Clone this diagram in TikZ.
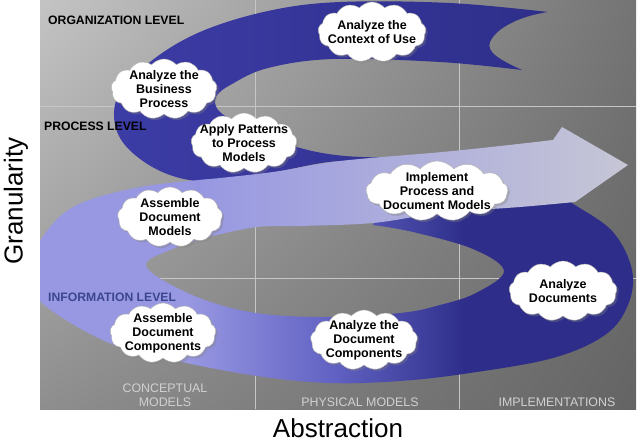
\documentclass[tikz,border=0pt]{standalone}
\usepackage{fontspec}
\setmainfont{Liberation Sans}
\usetikzlibrary{shapes.symbols,shadows,shadings}
\definecolor{bgul}{HTML}{C4C4C4}
\definecolor{bgur}{HTML}{747474}
\definecolor{bgll}{HTML}{8E8E8E}
\definecolor{bglr}{HTML}{646464}
\definecolor{darkb}{HTML}{2E2E8A}
\definecolor{lightb}{HTML}{3C3CA6}
\definecolor{midb}{HTML}{6262C4}
\definecolor{lav}{HTML}{9898E2}
\definecolor{pale}{HTML}{C6C6D6}
\definecolor{infoc}{HTML}{3C4690}
\pgfdeclarehorizontalshading{lowband}{100bp}{color(0bp)=(lav); color(38bp)=(lav); color(50bp)=(midb); color(61bp)=(darkb); color(100bp)=(darkb)}
\tikzset{
  cloudbox/.style={cloud, cloud puffs=13, cloud puff arc=100, cloud ignores aspect,
    fill=white, draw=gray!60, inner xsep=-14pt, inner ysep=-8pt, minimum height=60pt,
    align=center, font=\fontsize{12.5}{14}\selectfont\bfseries,
    drop shadow={shadow xshift=2pt, shadow yshift=-2pt, opacity=.35}},
  lvl/.style={anchor=base west, inner sep=0pt, font=\fontsize{12.2}{14}\selectfont\bfseries},
  colname/.style={inner sep=0pt, align=center, text=white!82!black, font=\fontsize{12.4}{14}\selectfont},
  axislabel/.style={anchor=base, inner sep=0pt, font=\fontsize{26}{30}\selectfont},
  gridline/.style={white!55!gray, line width=.6pt}
}
\begin{document}
\begin{tikzpicture}[x=1pt, y=-1pt, line join=round, line cap=round]
\useasboundingbox (0,0) rectangle (639,442);
\path (548,12) coordinate(tailtop)
(490,42) coordinate(notch)
(522,70) coordinate(tailbot)
(562,127) coordinate(barb)
(628,165) coordinate(tip)
(575,202) coordinate(barblow)
;
%background and grid
\shade[upper left=bgul, upper right=bgur, lower left=bgll, lower right=bglr] (40,0) rectangle (636,409);
\foreach \gx in {255,459} \draw[gridline] (\gx,0) -- (\gx,409);
\foreach \gy in {106,278} \draw[gridline] (40,\gy) -- (636,\gy);
%the S band
\begin{scope}
\clip (40,0) rectangle (636,409);
\shade[left color=lightb, right color=darkb]
  plot[smooth, tension=.6] coordinates {(tailtop) (450,3) (340,2) (268,11) (200,32) (150,62) (117,98) (120,138) (158,170) (210,182) (275,172) (345,161) (425,172)}
  -- plot[smooth, tension=.6] coordinates {(425,158) (345,156) (293,146) (248,128) (220,112) (216,97) (232,84) (268,68) (333,59) (440,62) (tailbot)}
  .. controls (500,60) and (486,52) .. (notch)
  .. controls (496,28) and (520,16) .. (tailtop) -- cycle;
\shade[shading=lowband]
  plot[smooth, tension=.6] coordinates {(212,179) (140,187) (75,206) (42,238) (30,272) (42,303) (107,342) (173,360) (257,376) (330,383) (400,381) (470,373) (553,358) (605,335) (628,305) (632,270) (613,232) (575,205) (560,197)}
  -- (380,210)
  -- plot[smooth, tension=.6] coordinates {(373,225) (413,232) (473,249) (504,271) (476,293) (440,305) (400,313) (320,317) (250,312) (190,294) (146,266) (175,248) (212,236)} -- cycle;
\shade[left color=lav, right color=pale]
  plot[smooth, tension=.6] coordinates {(200,180) (273,172) (340,161) (453,151) (553,140)}
  -- (barb) -- (tip) -- (barblow)
  -- plot[smooth, tension=.6] coordinates {(barblow) (520,207) (440,213) (373,223) (300,226) (257,227) (212,236) (200,239)} -- cycle;
\end{scope}
%clouds
\foreach \n/\x/\y/\w/\t in {
  ctx/372/32/108/{Analyze the\\Context of Use},
  biz/164/89/106/{Analyze the\\Business\\Process},
  pat/244/143/106/{Apply Patterns\\to Process\\Models},
  asm/170/217/105/{Assemble\\Document\\Models},
  impl/437/191/142/{Implement\\Process and\\Document Models},
  adoc/563/291/108/{Analyze\\Documents},
  adc/364/340/107/{Analyze the\\Document\\Components},
  acomp/163/333/106/{Assemble\\Document\\Components}}
  \node[cloudbox, minimum width=\w pt] (\n) at (\x,\y) {\t};
%levels and columns
\node[lvl] (org) at (48,24) {ORGANIZATION LEVEL};
\node[lvl] (proc) at (44,130) {PROCESS LEVEL};
\node[lvl, text=infoc] (info) at (48,301) {INFORMATION LEVEL};
\node[colname] (conc) at (165,395) {CONCEPTUAL\\MODELS};
\node[colname, anchor=base] (phys) at (360,406) {PHYSICAL MODELS};
\node[colname, anchor=base] (impls) at (557,406) {IMPLEMENTATIONS};
\node[axislabel, rotate=90] (gran) at (22.5,201) {Granularity};
\node[axislabel] (abstr) at (338,437) {Abstraction};
\end{tikzpicture}
\end{document}
